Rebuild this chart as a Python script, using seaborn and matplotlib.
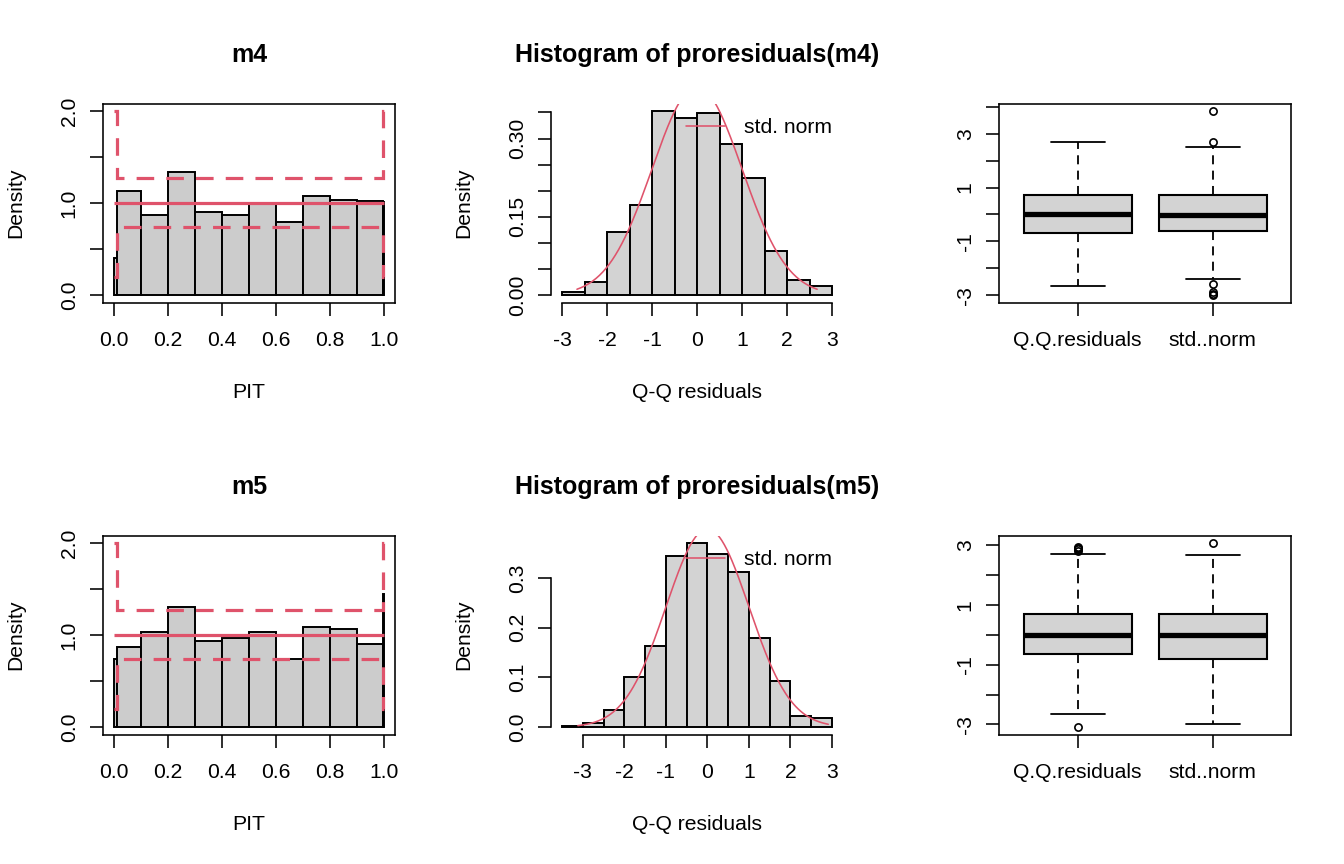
import numpy as np
import matplotlib
matplotlib.use("Agg")
import matplotlib.pyplot as plt
import seaborn as sns

# ---------------- data ----------------

# PIT histograms (unequal bins at both ends)
pit_edges = [0.0, 0.009, 0.1, 0.2, 0.3, 0.4, 0.5, 0.6, 0.7, 0.8, 0.9, 0.995, 1.0]
pit_m4 = [0.40, 1.13, 0.875, 1.34, 0.90, 0.875, 1.0, 0.80, 1.075, 1.04, 1.025, 1.01]
pit_m5 = [0.745, 0.875, 1.04, 1.31, 0.94, 0.975, 1.04, 0.74, 1.085, 1.07, 0.90, 1.45]
pit_ci_lower = [0.2, 0.74, 0.74, 0.74, 0.74, 0.74, 0.74, 0.74, 0.74, 0.74, 0.74, 0.2]
pit_ci_upper = [2.0, 1.28, 1.28, 1.28, 1.28, 1.28, 1.28, 1.28, 1.28, 1.28, 1.28, 2.0]
pit_ref = 1.0

# histograms of the Q-Q residuals
qq_edges_m4 = [-3.0, -2.5, -2.0, -1.5, -1.0, -0.5, 0.0, 0.5, 1.0, 1.5, 2.0, 2.5, 3.0]
qq_m4 = [0.006, 0.025, 0.121, 0.173, 0.352, 0.340, 0.349, 0.289, 0.225, 0.085, 0.029, 0.017]
qq_range_m4 = [-2.67, 2.67]
qq_edges_m5 = [-3.5, -3.0, -2.5, -2.0, -1.5, -1.0, -0.5, 0.0, 0.5, 1.0, 1.5, 2.0, 2.5, 3.0]
qq_m5 = [0.003, 0.008, 0.0355, 0.100, 0.164, 0.345, 0.370, 0.348, 0.313, 0.180, 0.092, 0.023, 0.019]
qq_range_m5 = [-3.12, 2.91]

# boxplot summaries: whislo, q1, med, q3, whishi
box_labels = ["Q.Q.residuals", "std..norm"]
box_m4 = [[-2.66, -0.69, 0.00, 0.74, 2.68], [-2.40, -0.62, -0.04, 0.71, 2.52]]
fliers_m4 = [[], [3.83, 2.68, -2.59, -2.88, -2.95, -3.00]]
box_m5 = [[-2.64, -0.65, 0.00, 0.705, 2.72], [-3.00, -0.795, -0.01, 0.69, 2.69]]
fliers_m5 = [[2.83, 2.87, 2.91, 2.95, -3.09], [3.07]]

# ---------------- style ----------------
RED = "#DF536B"
GREY = "#D3D3D3"
LW = 1.15
FS = 15.2

sns.set_style("white", rc={"axes.edgecolor": "black", "text.color": "black",
                           "xtick.color": "black", "ytick.color": "black",
                           "axes.labelcolor": "black"})
plt.rcParams["font.family"] = ["Liberation Sans", "DejaVu Sans"]
plt.rcParams["axes.unicode_minus"] = False
plt.rcParams["axes.linewidth"] = LW

fig = plt.figure(figsize=(13.44, 8.64), dpi=100)


def panel(row, col):
    left, top, w, h = 448 * col + 103.3, 432 * row + 104, 291.5, 198.5
    return fig.add_axes([left / 1344, 1 - (top + h) / 864, w / 1344, h / 864])


def extend(lo, hi):
    d = (hi - lo) * 0.04
    return lo - d, hi + d


def r_axes(ax, xticks, xlabels, yticks, ylabels, box, xlab="", ylab="", title=""):
    ax.set_xticks(xticks, xlabels)
    ax.set_yticks(yticks, ylabels)
    ax.tick_params(direction="out", length=9.1, width=LW, labelsize=FS,
                   bottom=True, left=True)
    ax.tick_params(axis="x", pad=11.5)
    ax.tick_params(axis="y", pad=8.5, labelrotation=90)
    for t in ax.get_yticklabels():
        t.set_verticalalignment("center")
    if not box:
        ax.spines["top"].set_visible(False)
        ax.spines["right"].set_visible(False)
        ax.spines["bottom"].set_bounds(xticks[0], xticks[-1])
        ax.spines["left"].set_bounds(yticks[0], yticks[-1])
    ax.set_xlabel(xlab, fontsize=FS)
    ax.set_ylabel(ylab, fontsize=FS)
    ax.xaxis.set_label_coords(0.5, -0.452)
    ax.yaxis.set_label_coords(-0.302, 0.5)
    ax.xaxis.label.set_verticalalignment("center")
    ax.yaxis.label.set_verticalalignment("center")
    if title:
        ax.set_title(title, fontsize=18, fontweight="bold", pad=30.2)


def pit_panel(ax, heights, name):
    centers = [(a + b) / 2 for a, b in zip(pit_edges[:-1], pit_edges[1:])]
    sns.histplot(x=centers, weights=heights, bins=pit_edges, ax=ax, color="#CCCCCC",
                 edgecolor="black", linewidth=1.4, alpha=1)
    ax.hlines(pit_ref, pit_edges[0], pit_edges[-1], color=RED, lw=2.3)
    for ci in (pit_ci_lower, pit_ci_upper):
        ax.stairs(ci, pit_edges, baseline=None, color=RED, lw=2.3,
                  linestyle=(0, (5.5, 3.8)))
    ax.set_xlim(extend(0, 1))
    ax.set_ylim(extend(0, max(pit_ci_upper)))
    r_axes(ax, [0, 0.2, 0.4, 0.6, 0.8, 1.0], ["0.0", "0.2", "0.4", "0.6", "0.8", "1.0"],
           [0, 0.5, 1.0, 1.5, 2.0], ["0.0", "", "1.0", "", "2.0"], True,
           "PIT", "Density", name)


def qq_panel(ax, edges, heights, crange, yticks, ylabels, name):
    centers = [(a + b) / 2 for a, b in zip(edges[:-1], edges[1:])]
    sns.histplot(x=centers, weights=heights, bins=edges, ax=ax, color=GREY,
                 edgecolor="black", linewidth=1.4, alpha=1)
    grid = np.linspace(crange[0], crange[1], 300)
    sns.lineplot(x=grid, y=np.exp(-grid ** 2 / 2) / np.sqrt(2 * np.pi), ax=ax,
                 color=RED, lw=LW, label="std. norm")
    ax.legend(loc="upper right", bbox_to_anchor=(0.962, 0.93), frameon=False,
              borderaxespad=0, borderpad=0, handlelength=1.85, handletextpad=0.9,
              fontsize=FS)
    ax.set_xlim(extend(edges[0], edges[-1]))
    ax.set_ylim(extend(0, max(heights)))
    r_axes(ax, [-3, -2, -1, 0, 1, 2, 3], ["-3", "-2", "-1", "0", "1", "2", "3"],
           yticks, ylabels, False, "Q-Q residuals", "Density",
           "Histogram of proresiduals(%s)" % name)


def box_panel(ax, summaries, fliers, yticks):
    stats = []
    for lab, s, f in zip(box_labels, summaries, fliers):
        stats.append(dict(label=lab, whislo=s[0], q1=s[1], med=s[2], q3=s[3],
                          whishi=s[4], fliers=f))
    ax.bxp(stats, positions=[1, 2], widths=0.8, capwidths=0.4, patch_artist=True,
           boxprops=dict(facecolor=GREY, edgecolor="black", linewidth=1.5),
           medianprops=dict(color="black", linewidth=3.8, solid_capstyle="butt"),
           whiskerprops=dict(color="black", linewidth=1.3, linestyle=(0, (5, 3.5))),
           capprops=dict(color="black", linewidth=1.3),
           flierprops=dict(marker="o", markerfacecolor="none", markeredgecolor="black",
                           markersize=5.2, markeredgewidth=1.2))
    allv = [v for s in summaries for v in s] + [v for f in fliers for v in f]
    ax.set_xlim(extend(0.5, 2.5))
    ax.set_ylim(extend(min(allv), max(allv)))
    ylabels = [str(t) if t % 2 else "" for t in yticks]
    r_axes(ax, [1, 2], box_labels, yticks, ylabels, True)


pit_panel(panel(0, 0), pit_m4, "m4")
qq_panel(panel(0, 1), qq_edges_m4, qq_m4, qq_range_m4,
         [0, 0.05, 0.10, 0.15, 0.20, 0.25, 0.30, 0.35],
         ["0.00", "", "", "0.15", "", "", "0.30", ""], "m4")
box_panel(panel(0, 2), box_m4, fliers_m4, [-3, -2, -1, 0, 1, 2, 3, 4])

pit_panel(panel(1, 0), pit_m5, "m5")
qq_panel(panel(1, 1), qq_edges_m5, qq_m5, qq_range_m5,
         [0, 0.1, 0.2, 0.3], ["0.0", "0.1", "0.2", "0.3"], "m5")
box_panel(panel(1, 2), box_m5, fliers_m5, [-3, -2, -1, 0, 1, 2, 3])

fig.savefig("out.png", dpi=100)
